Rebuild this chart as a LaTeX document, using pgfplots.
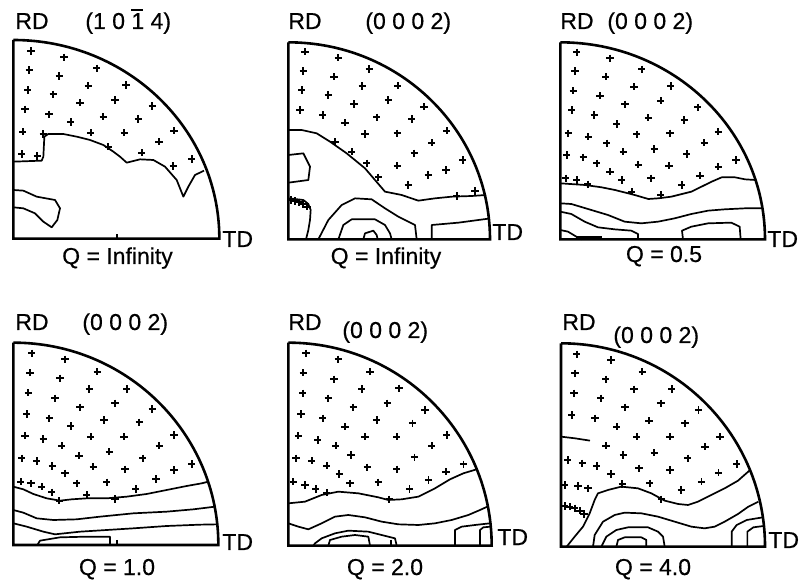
\documentclass[border=0pt]{standalone}
\usepackage{fontspec}
\setmainfont{Liberation Sans}
\newfontfamily\lblfont[FakeBold=0.5]{Liberation Sans}
\usepackage{pgfplots}
\pgfplotsset{compat=1.18}
\begin{document}
\begin{tikzpicture}[every node/.style={font=\lblfont\fontsize{11.5}{13}\selectfont, inner sep=0pt}]
\path[use as bounding box] (0,0) rectangle (401pt,291.5pt);
\pgfplotsset{pf/.style={hide axis, scale only axis, clip=false, anchor=south west, y filter/.expression={-y}},
 pl/.style={only marks, mark=+, mark size=1.8pt, mark options={line width=0.85pt}, black},
 cl/.style={black, line width=0.85pt, line join=round, no marks}}
% ---------------- Panel 1
\begin{axis}[pf, at={(6.67pt,172.17pt)}, width=103pt, height=99.33pt, xmin=40, xmax=658, ymin=-716, ymax=-120]
\addplot[pl] coordinates {(93,153) (192,172) (88,210) (178,228) (290,205) (83,270) (160,283) (265,257) (378,255) (75,328) (147,343) (240,308) (345,300) (457,318) (68,395) (130,402) (212,366) (310,350) (415,357) (522,392) (65,462) (112,468) (272,398) (373,398) (477,425) (575,477) (325,440) (425,458) (520,498)};
\addplot[cl] coordinates {(40,485) (125,482) (130,470) (133,410) (145,402) (190,402) (230,410) (270,420) (310,435) (340,455) (360,470) (380,488) (420,478) (460,480) (495,500) (530,540) (550,590) (565,560) (585,525) (612,512)};
\addplot[cl] coordinates {(40,570) (70,572) (110,590) (165,600) (180,625) (172,660) (155,682) (130,665) (105,640) (70,625) (40,622)};
\addplot[cl] coordinates {(350,703) (350,716)};
\draw[line width=1.3pt] (axis cs:40,-120) -- (axis cs:40,-716) -- (axis cs:658,-716) arc[start angle=0, end angle=90, x radius=103pt, y radius=99.33pt];
\end{axis}
% ---------------- Panel 2
\begin{axis}[pf, at={(144.17pt,171.83pt)}, width=100.83pt, height=98.5pt, xmin=55, xmax=660, ymin=-718, ymax=-127]
\addplot[pl] coordinates {(105,155) (205,173) (100,213) (192,230) (298,207) (95,270) (175,285) (277,258) (383,257) (90,330) (158,345) (252,312) (355,300) (462,320) (225,368) (320,352) (425,357) (530,392) (195,425) (285,402) (382,400) (485,428) (245,455) (433,460) (578,480) (290,490) (382,497) (528,510) (325,532) (475,525) (415,555) (560,588) (615,573) (62,600) (75,603) (88,607) (100,612) (112,620)};
\addplot[cl] coordinates {(55,390) (95,390) (140,400) (180,425) (230,460) (285,505) (315,540) (345,575) (395,585) (445,602) (495,595) (545,590) (605,588) (648,585)};
\addplot[cl] coordinates {(55,465) (100,460) (120,500) (115,540) (55,548)};
\addplot[cl] coordinates {(55,595) (75,597) (100,600) (115,612) (122,630) (120,660) (115,690) (108,718)};
\addplot[cl] coordinates {(145,718) (175,660) (215,615) (255,595) (305,598) (345,625) (385,650) (435,675) (440,718)};
\addplot[cl] coordinates {(485,718) (485,675) (565,668) (655,656)};
\addplot[cl] coordinates {(205,718) (220,675) (245,658) (315,658) (345,675) (360,700) (365,718)};
\addplot[cl] coordinates {(280,718) (285,700) (310,692) (320,705) (323,718)};
\draw[line width=1.3pt] (axis cs:55,-127) -- (axis cs:55,-718) -- (axis cs:660,-718) arc[start angle=0, end angle=90, x radius=100.83pt, y radius=98.5pt];
\end{axis}
% ---------------- Panel 3
\begin{axis}[pf, at={(280.17pt,171.83pt)}, width=102.33pt, height=98.5pt, xmin=76, xmax=690, ymin=-718, ymax=-127]
\addplot[pl] coordinates {(125,157) (225,175) (120,213) (212,230) (320,208) (115,272) (195,287) (297,260) (407,258) (110,330) (178,345) (270,313) (377,302) (488,322) (100,400) (160,410) (245,372) (340,353) (448,360) (550,395) (95,465) (145,472) (215,430) (305,403) (405,400) (508,428) (185,490) (265,455) (358,447) (455,462) (603,480) (92,535) (125,540) (158,553) (225,515) (310,494) (402,497) (550,500) (260,540) (348,535) (495,527) (290,575) (377,585) (440,555)};
\addplot[cl] coordinates {(76,550) (150,555) (200,562) (240,570) (299,585) (340,597) (369,595) (409,590) (469,575) (530,545) (560,532) (600,532) (630,538) (661,540)};
\addplot[cl] coordinates {(76,610) (109,612) (169,630) (219,645) (269,665) (319,670) (369,665) (419,655) (469,642) (519,632) (569,628) (629,625) (682,625)};
\addplot[cl] coordinates {(76,635) (109,642) (149,665) (189,682) (239,688) (289,692) (309,702) (309,718)};
\addplot[cl] coordinates {(76,690) (99,695) (124,710) (140,718)};
\addplot[black, line width=1.6pt, no marks] coordinates {(122,714) (202,714)};
\addplot[cl] coordinates {(444,718) (441,692) (469,680) (519,670) (589,668) (614,680) (617,718)};
\draw[line width=1.3pt] (axis cs:76,-127) -- (axis cs:76,-718) -- (axis cs:690,-718) arc[start angle=0, end angle=90, x radius=102.33pt, y radius=98.5pt];
\end{axis}
% ---------------- Panel 4
\begin{axis}[pf, at={(6.67pt,19pt)}, width=102.5pt, height=101.17pt, xmin=40, xmax=655, ymin=-765, ymax=-158]
\addplot[pl] coordinates {(95,190) (195,208) (90,248) (180,265) (292,245) (85,308) (165,325) (268,297) (380,297) (80,372) (148,385) (240,352) (345,340) (457,357) (75,437) (130,447) (212,408) (312,390) (418,397) (522,435) (65,505) (110,513) (157,528) (185,467) (272,440) (372,440) (478,467) (575,522) (237,497) (328,485) (428,505) (522,540) (195,550) (280,530) (375,538) (468,567) (62,575) (93,580) (125,590) (155,607) (230,580) (320,577) (407,597) (178,632) (260,615) (345,627)};
\addplot[cl] coordinates {(40,590) (70,598) (100,612) (140,625) (180,632) (215,628) (260,625) (320,625) (380,620) (440,612) (500,600) (560,588) (605,580) (625,575)};
\addplot[cl] coordinates {(40,660) (70,668) (110,685) (160,690) (230,688) (300,680) (400,670) (500,665) (580,658) (645,650)};
\addplot[cl] coordinates {(40,700) (80,710) (130,725) (165,733) (240,725) (320,720) (400,715) (500,708) (600,704) (653,703)};
\addplot[cl] coordinates {(112,765) (120,752) (180,742) (260,740) (330,740) (330,765)};
\addplot[cl] coordinates {(350,750) (350,765)};
\draw[line width=1.3pt] (axis cs:40,-158) -- (axis cs:40,-765) -- (axis cs:655,-765) arc[start angle=0, end angle=90, x radius=102.5pt, y radius=101.17pt];
\end{axis}
% ---------------- Panel 5
\begin{axis}[pf, at={(144.17pt,18.67pt)}, width=101.67pt, height=101.5pt, xmin=55, xmax=665, ymin=-767, ymax=-158]
\addplot[pl] coordinates {(108,190) (205,208) (100,248) (192,268) (300,245) (98,310) (175,325) (275,297) (387,295) (93,372) (158,385) (250,352) (352,340) (465,360) (85,437) (143,450) (225,410) (320,390) (427,400) (530,435) (78,505) (125,512) (170,527) (197,467) (285,440) (380,440) (485,467) (580,523) (208,552) (292,532) (380,538) (433,502) (528,545) (240,580) (325,577) (418,597) (475,570) (70,575) (105,585) (137,597) (170,608) (358,628) (243,495)};
\addplot[cl] coordinates {(55,640) (105,635) (155,615) (205,605) (265,610) (325,622) (355,630) (395,628) (445,620) (495,595) (540,568) (580,550) (620,538)};
\addplot[cl] coordinates {(55,700) (85,710) (115,718) (155,700) (195,680) (235,675) (285,682) (335,695) (385,703) (445,705) (495,700) (545,690) (595,675) (630,660) (652,650)};
\addplot[cl] coordinates {(130,767) (135,760) (155,745) (195,730) (235,722) (295,725) (355,740) (375,745) (380,767)};
\addplot[cl] coordinates {(175,767) (180,750) (215,740) (255,735) (295,740) (300,767)};
\addplot[cl] coordinates {(555,767) (555,720) (575,710) (615,705) (660,700)};
\addplot[cl] coordinates {(630,767) (630,720) (640,712) (662,710)};
\addplot[cl] coordinates {(363,750) (363,767)};
\draw[line width=1.3pt] (axis cs:55,-158) -- (axis cs:55,-767) -- (axis cs:665,-767) arc[start angle=0, end angle=90, x radius=101.67pt, y radius=101.5pt];
\end{axis}
% ---------------- Panel 6
\begin{axis}[pf, at={(280.5pt,18.17pt)}, width=102pt, height=101.67pt, xmin=78, xmax=690, ymin=-770, ymax=-160]
\addplot[pl] coordinates {(125,193) (228,210) (120,250) (212,268) (322,245) (117,310) (197,325) (297,298) (410,297) (110,375) (180,385) (270,352) (378,340) (490,360) (245,410) (342,392) (450,400) (555,440) (98,510) (142,520) (185,528) (228,552) (213,467) (305,440) (405,440) (510,470) (605,522) (265,495) (358,488) (458,505) (550,548) (89,585) (129,588) (159,595) (262,582) (344,580) (439,600) (499,575) (312,535) (405,540) (379,628) (89,648) (104,650) (119,655) (134,662) (147,672)};
\addplot[cl] coordinates {(78,440) (120,445) (165,452)};
\addplot[cl] coordinates {(95,770) (119,740) (144,710) (164,670) (179,630) (189,610) (219,600) (259,590) (309,595) (349,610) (389,632) (429,642) (459,645) (489,635) (529,615) (569,595) (609,572) (643,542)};
\addplot[cl] coordinates {(174,770) (179,735) (204,695) (239,675) (269,668) (319,670) (369,680) (419,695) (469,710) (509,715) (539,710) (569,695) (609,672) (640,650) (670,635)};
\addplot[cl] coordinates {(199,770) (214,740) (244,720) (279,712) (339,712) (369,725) (384,740) (389,770)};
\addplot[cl] coordinates {(244,770) (249,750) (269,742) (319,742) (334,750) (334,770)};
\addplot[cl] coordinates {(590,770) (590,725) (605,705) (635,690) (684,682)};
\addplot[cl] coordinates {(637,770) (637,725) (655,712) (686,708)};
\draw[line width=1.3pt] (axis cs:78,-160) -- (axis cs:78,-770) -- (axis cs:690,-770) arc[start angle=0, end angle=90, x radius=102pt, y radius=101.67pt];
\end{axis}
% ---------------- Labels
\newcommand{\barone}{\makebox[0pt][l]{\raisebox{0.8em}{\rule{0.5em}{0.07em}}}1}
\node[anchor=base west] at (7.5pt,277pt) {RD};
\node[anchor=base west] at (42.5pt,277pt) {(1 0 \barone\ 4)};
\node[anchor=base west] at (111pt,168pt) {TD};
\node[anchor=base] at (58.75pt,159.5pt) {Q = Infinity};
\node[anchor=base west] at (144pt,277pt) {RD};
\node[anchor=base west] at (182.5pt,277pt) {(0 0 0 2)};
\node[anchor=base west] at (246pt,171.5pt) {TD};
\node[anchor=base] at (193pt,159.5pt) {Q = Infinity};
\node[anchor=base west] at (280pt,277pt) {RD};
\node[anchor=base west] at (303.5pt,277pt) {(0 0 0 2)};
\node[anchor=base west] at (383.5pt,168pt) {TD};
\node[anchor=base] at (332pt,160.5pt) {Q = 0.5};
\node[anchor=base west] at (7.5pt,126.5pt) {RD};
\node[anchor=base west] at (41pt,126.5pt) {(0 0 0 2)};
\node[anchor=base west] at (111pt,16.5pt) {TD};
\node[anchor=base] at (58.5pt,4pt) {Q = 1.0};
\node[anchor=base west] at (144pt,126.5pt) {RD};
\node[anchor=base west] at (171pt,122.5pt) {(0 0 0 2)};
\node[anchor=base west] at (248.5pt,19pt) {TD};
\node[anchor=base] at (192.5pt,4pt) {Q = 2.0};
\node[anchor=base west] at (281pt,126.5pt) {RD};
\node[anchor=base west] at (306.5pt,120pt) {(0 0 0 2)};
\node[anchor=base west] at (384pt,17.5pt) {TD};
\node[anchor=base] at (326.5pt,4pt) {Q = 4.0};
\end{tikzpicture}
\end{document}
